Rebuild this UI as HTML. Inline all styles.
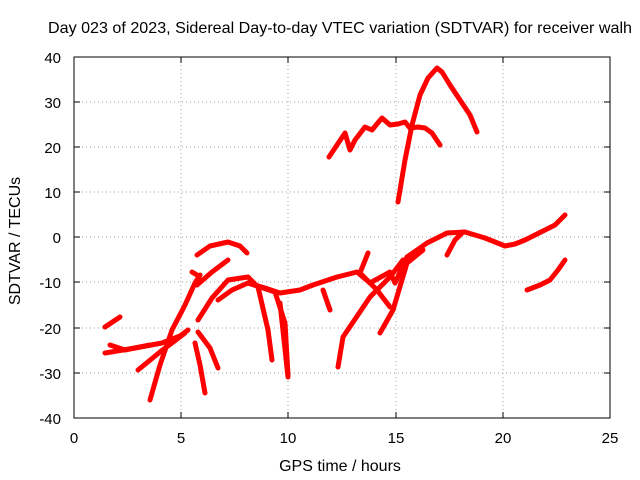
<!DOCTYPE html>
<html><head><meta charset="utf-8"><style>
body{margin:0;background:#fff}
svg{display:block}
text{font-family:"Liberation Sans",sans-serif;font-size:15px;fill:#000}
.big{font-size:16px}
</style></head><body>
<svg width="640" height="480" viewBox="0 0 640 480">
<text class="big" x="340" y="33" text-anchor="middle" textLength="584" lengthAdjust="spacingAndGlyphs">Day 023 of 2023, Sidereal Day-to-day VTEC variation (SDTVAR) for receiver walh</text>
<g stroke="#a0a0a0" stroke-width="1" stroke-dasharray="1,3">
<line x1="181" y1="57" x2="181" y2="418"/><line x1="288" y1="57" x2="288" y2="418"/><line x1="396" y1="57" x2="396" y2="418"/><line x1="503" y1="57" x2="503" y2="418"/>
<line x1="74" y1="102" x2="610" y2="102"/><line x1="74" y1="147" x2="610" y2="147"/><line x1="74" y1="192" x2="610" y2="192"/><line x1="74" y1="237" x2="610" y2="237"/><line x1="74" y1="282" x2="610" y2="282"/><line x1="74" y1="328" x2="610" y2="328"/><line x1="74" y1="373" x2="610" y2="373"/>
</g>
<rect x="74" y="57" width="536" height="361" fill="none" stroke="#000"/>
<g stroke="#000">
<line x1="181" y1="418" x2="181" y2="412"/><line x1="288" y1="418" x2="288" y2="412"/><line x1="396" y1="418" x2="396" y2="412"/><line x1="503" y1="418" x2="503" y2="412"/>
<line x1="181" y1="57" x2="181" y2="63"/><line x1="288" y1="57" x2="288" y2="63"/><line x1="396" y1="57" x2="396" y2="63"/><line x1="503" y1="57" x2="503" y2="63"/>
<line x1="74" y1="102" x2="80" y2="102"/><line x1="74" y1="147" x2="80" y2="147"/><line x1="74" y1="192" x2="80" y2="192"/><line x1="74" y1="237" x2="80" y2="237"/><line x1="74" y1="282" x2="80" y2="282"/><line x1="74" y1="328" x2="80" y2="328"/><line x1="74" y1="373" x2="80" y2="373"/>
<line x1="610" y1="102" x2="604" y2="102"/><line x1="610" y1="147" x2="604" y2="147"/><line x1="610" y1="192" x2="604" y2="192"/><line x1="610" y1="237" x2="604" y2="237"/><line x1="610" y1="282" x2="604" y2="282"/><line x1="610" y1="328" x2="604" y2="328"/><line x1="610" y1="373" x2="604" y2="373"/>
</g>
<g text-anchor="end">
<text x="61" y="63">40</text><text x="61" y="108">30</text><text x="61" y="153">20</text><text x="61" y="198">10</text><text x="61" y="243">0</text><text x="61" y="288">-10</text><text x="61" y="334">-20</text><text x="61" y="379">-30</text><text x="61" y="424">-40</text>
</g>
<g text-anchor="middle">
<text x="74" y="443">0</text><text x="181" y="443">5</text><text x="288" y="443">10</text><text x="396" y="443">15</text><text x="503" y="443">20</text><text x="610" y="443">25</text>
<text class="big" x="340" y="471">GPS time / hours</text>
<text class="big" transform="translate(20,241) rotate(-90)">SDTVAR / TECUs</text>
</g>
<g fill="none" stroke="#f00" stroke-width="5" stroke-linejoin="round" stroke-linecap="round">
<polyline points="329,157 337,145 345,133 350,150 355,140 365,127 372,130 382,118 390,125 398,124 405,122 410,128 418,127 425,128 432,133 440,145"/>
<polyline points="398,202 405,160 412,125 420,95 428,78 437,68 442,72 450,85 460,100 470,115 477,132"/>
<polyline points="407,257 427,243 447,233 465,232 475,235 485,238 495,242 505,246 515,244 525,240 535,235 545,230 555,225 565,215"/>
<polyline points="447,255 455,240 463,232"/>
<polyline points="527,290 540,285 550,280 558,270 565,260"/>
<polyline points="248,283 265,288 280,293 300,290 313,285 337,277 357,272 370,283 390,272 395,283 407,257"/>
<polyline points="360,273 368,253"/>
<polyline points="360,273 377,290 390,307"/>
<polyline points="338,367 343,337 370,297 390,277 403,260"/>
<polyline points="380,333 393,310 407,263 423,250"/>
<polyline points="323,290 330,310"/>
<polyline points="280,303 288,377"/>
<polyline points="197,255 210,246 228,242 240,246 247,253"/>
<polyline points="197,285 212,272 228,260"/>
<polyline points="150,400 160,365 172,330 185,305 195,283 200,275"/>
<polyline points="198,320 212,298 228,280 248,277 258,287 268,330 272,360"/>
<polyline points="218,300 232,290 248,283 275,292 285,323 288,375"/>
<polyline points="105,327 120,317"/>
<polyline points="105,353 135,348 162,343 180,336 188,330"/>
<polyline points="110,345 125,350 150,345"/>
<polyline points="195,343 200,365 205,393"/>
<polyline points="198,332 210,348 218,368"/>
<polyline points="138,370 160,352 185,333"/>
<polyline points="192,272 197,275"/>
</g>
</svg>
</body></html>
